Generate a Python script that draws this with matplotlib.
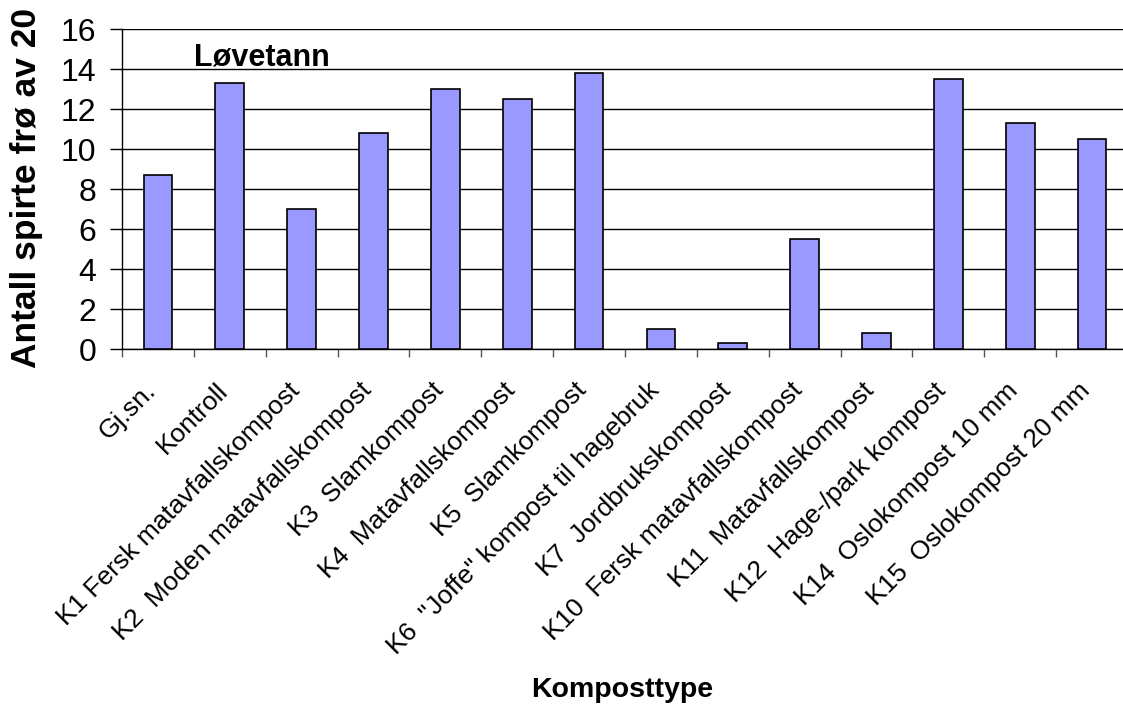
import matplotlib.pyplot as plt
import numpy as np

plt.rcParams["font.family"] = ["Liberation Sans", "DejaVu Sans"]

CATEGORIES = [
    "Gj.sn.",
    "Kontroll",
    "K1 Fersk matavfallskompost",
    "K2  Moden matavfallskompost",
    "K3  Slamkompost",
    "K4  Matavfallskompost",
    "K5  Slamkompost",
    'K6  "Joffe" kompost til hagebruk',
    "K7  Jordbrukskompost",
    "K10  Fersk matavfallskompost",
    "K11  Matavfallskompost",
    "K12  Hage-/park kompost",
    "K14  Oslokompost 10 mm",
    "K15  Oslokompost 20 mm",
]
SPIRTE = [8.7, 13.3, 7.0, 10.8, 13.0, 12.5, 13.8, 1.0, 0.3, 5.5, 0.8, 13.5, 11.3, 10.5]
Y_TICKS = [0, 2, 4, 6, 8, 10, 12, 14, 16]

TITLE = "Løvetann"
X_LABEL = "Komposttype"
Y_LABEL = "Antall spirte frø av 20"


def main():
    fig = plt.figure(figsize=(11.23, 7.11), dpi=100)
    ax = fig.add_axes([122 / 1123, 1 - 349 / 711, 1006 / 1123, 320 / 711])

    x = np.arange(len(CATEGORIES))
    ax.bar(x, SPIRTE, width=0.4, color="#9999FF", edgecolor="black", linewidth=1.2, zorder=3)

    ax.set_xlim(-0.5, len(CATEGORIES) - 0.5)
    ax.set_ylim(0, 16)
    ax.set_yticks(Y_TICKS)
    ax.tick_params(axis="y", labelsize=23, length=8.5, width=1, pad=10)
    ax.yaxis.grid(True, color="black", linewidth=1, zorder=0)

    # ticks between categories; rotated labels end a little left of bar centre
    ax.set_xticks(np.arange(len(CATEGORIES) + 1) - 0.5)
    ax.set_xticklabels([])
    ax.set_xticks(x - 0.2, minor=True)
    ax.set_xticklabels(CATEGORIES, minor=True, rotation=45, ha="right",
                       va="top", rotation_mode="anchor", fontsize=19)
    ax.tick_params(axis="x", which="major", length=6, width=1, color="#555555")
    ax.tick_params(axis="x", which="minor", length=0, pad=21)

    for side in ("top", "right"):
        ax.spines[side].set_visible(False)
    ax.spines["left"].set_linewidth(1)
    ax.spines["bottom"].set_linewidth(1)

    ax.text(0.5, 14.6, TITLE, fontsize=22, fontweight="bold", va="center", ha="left")

    fig.text(622 / 1123, 1 - 690 / 711, X_LABEL, fontsize=20.5, fontweight="bold",
             ha="center", va="center")
    fig.text(27 / 1123, 1 - 188 / 711, Y_LABEL, fontsize=25.5, fontweight="bold",
             ha="center", va="center", rotation=90)

    fig.savefig("out.png", dpi=100)


if __name__ == "__main__":
    main()
